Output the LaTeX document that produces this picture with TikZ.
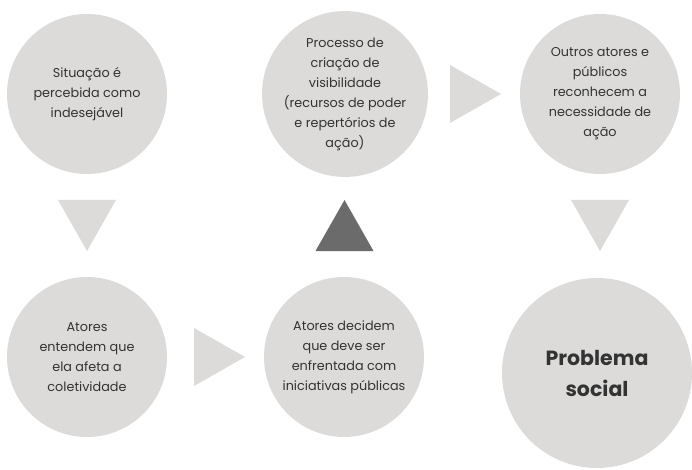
\documentclass[tikz,border=0pt]{standalone}
\usepackage{fontspec}
\setmainfont{Poppins}
\usepackage{tikz}
\usetikzlibrary{positioning,calc}
\definecolor{circ}{HTML}{DCDBDA}
\definecolor{tri}{HTML}{DCDBDA}
\definecolor{tridark}{HTML}{6B6B6B}
\definecolor{txt}{HTML}{333333}

\begin{document}
\begin{tikzpicture}[
    x=1pt, y=-1pt,
    stage/.style={circle, fill=circ, minimum size=160pt, inner sep=0pt, align=center, text=txt, font=\fontsize{12.8}{20}\selectfont},
    final/.style={stage, minimum size=190pt, font=\fontsize{20.5}{31}\selectfont\bfseries}
]
    \useasboundingbox (0,0) rectangle (692,470);

    % Stages
    \node[stage] (s1) at (87,94) {Situação é\\percebida como\\indesejável};
    \node[stage] (s2) at (87,357) {Atores\\entendem que\\ela afeta a\\coletividade};
    \node[stage] (s3) at (344,357) {Atores decidem\\que deve ser\\enfrentada com\\iniciativas públicas};
    \node[stage] (s4) at (345,94) {Processo de\\criação de\\visibilidade\\(recursos de poder\\e repertórios de\\ação)};
    \node[stage] (s5) at (600,94) {Outros atores e\\públicos\\reconhecem a\\necessidade de\\ação};
    \node[final] (s6) at (597,373) {Problema\\social};

    % Arrow marks between stages
    \coordinate (t1) at ($(s1)!0.5!(s2)$);
    \coordinate (t2) at ($(s2)!0.5!(s3)+(4,0)$);
    \coordinate (t3) at ($(s3)!0.5!(s4)$);
    \coordinate (t4) at ($(s4)!0.5!(s5)+(3,0)$);
    \coordinate (t5) at ($(s5)!0.5!(s5 |- s2)$);

    \foreach \at/\ang/\col in {t1/-90/tri, t2/0/tri, t3/90/tridark, t4/0/tri, t5/-90/tri} {
        \fill[\col, shift={(\at)}, rotate=\ang] (-25.5,-29) -- (25.5,0) -- (-25.5,29) -- cycle;
    }
\end{tikzpicture}
\end{document}
